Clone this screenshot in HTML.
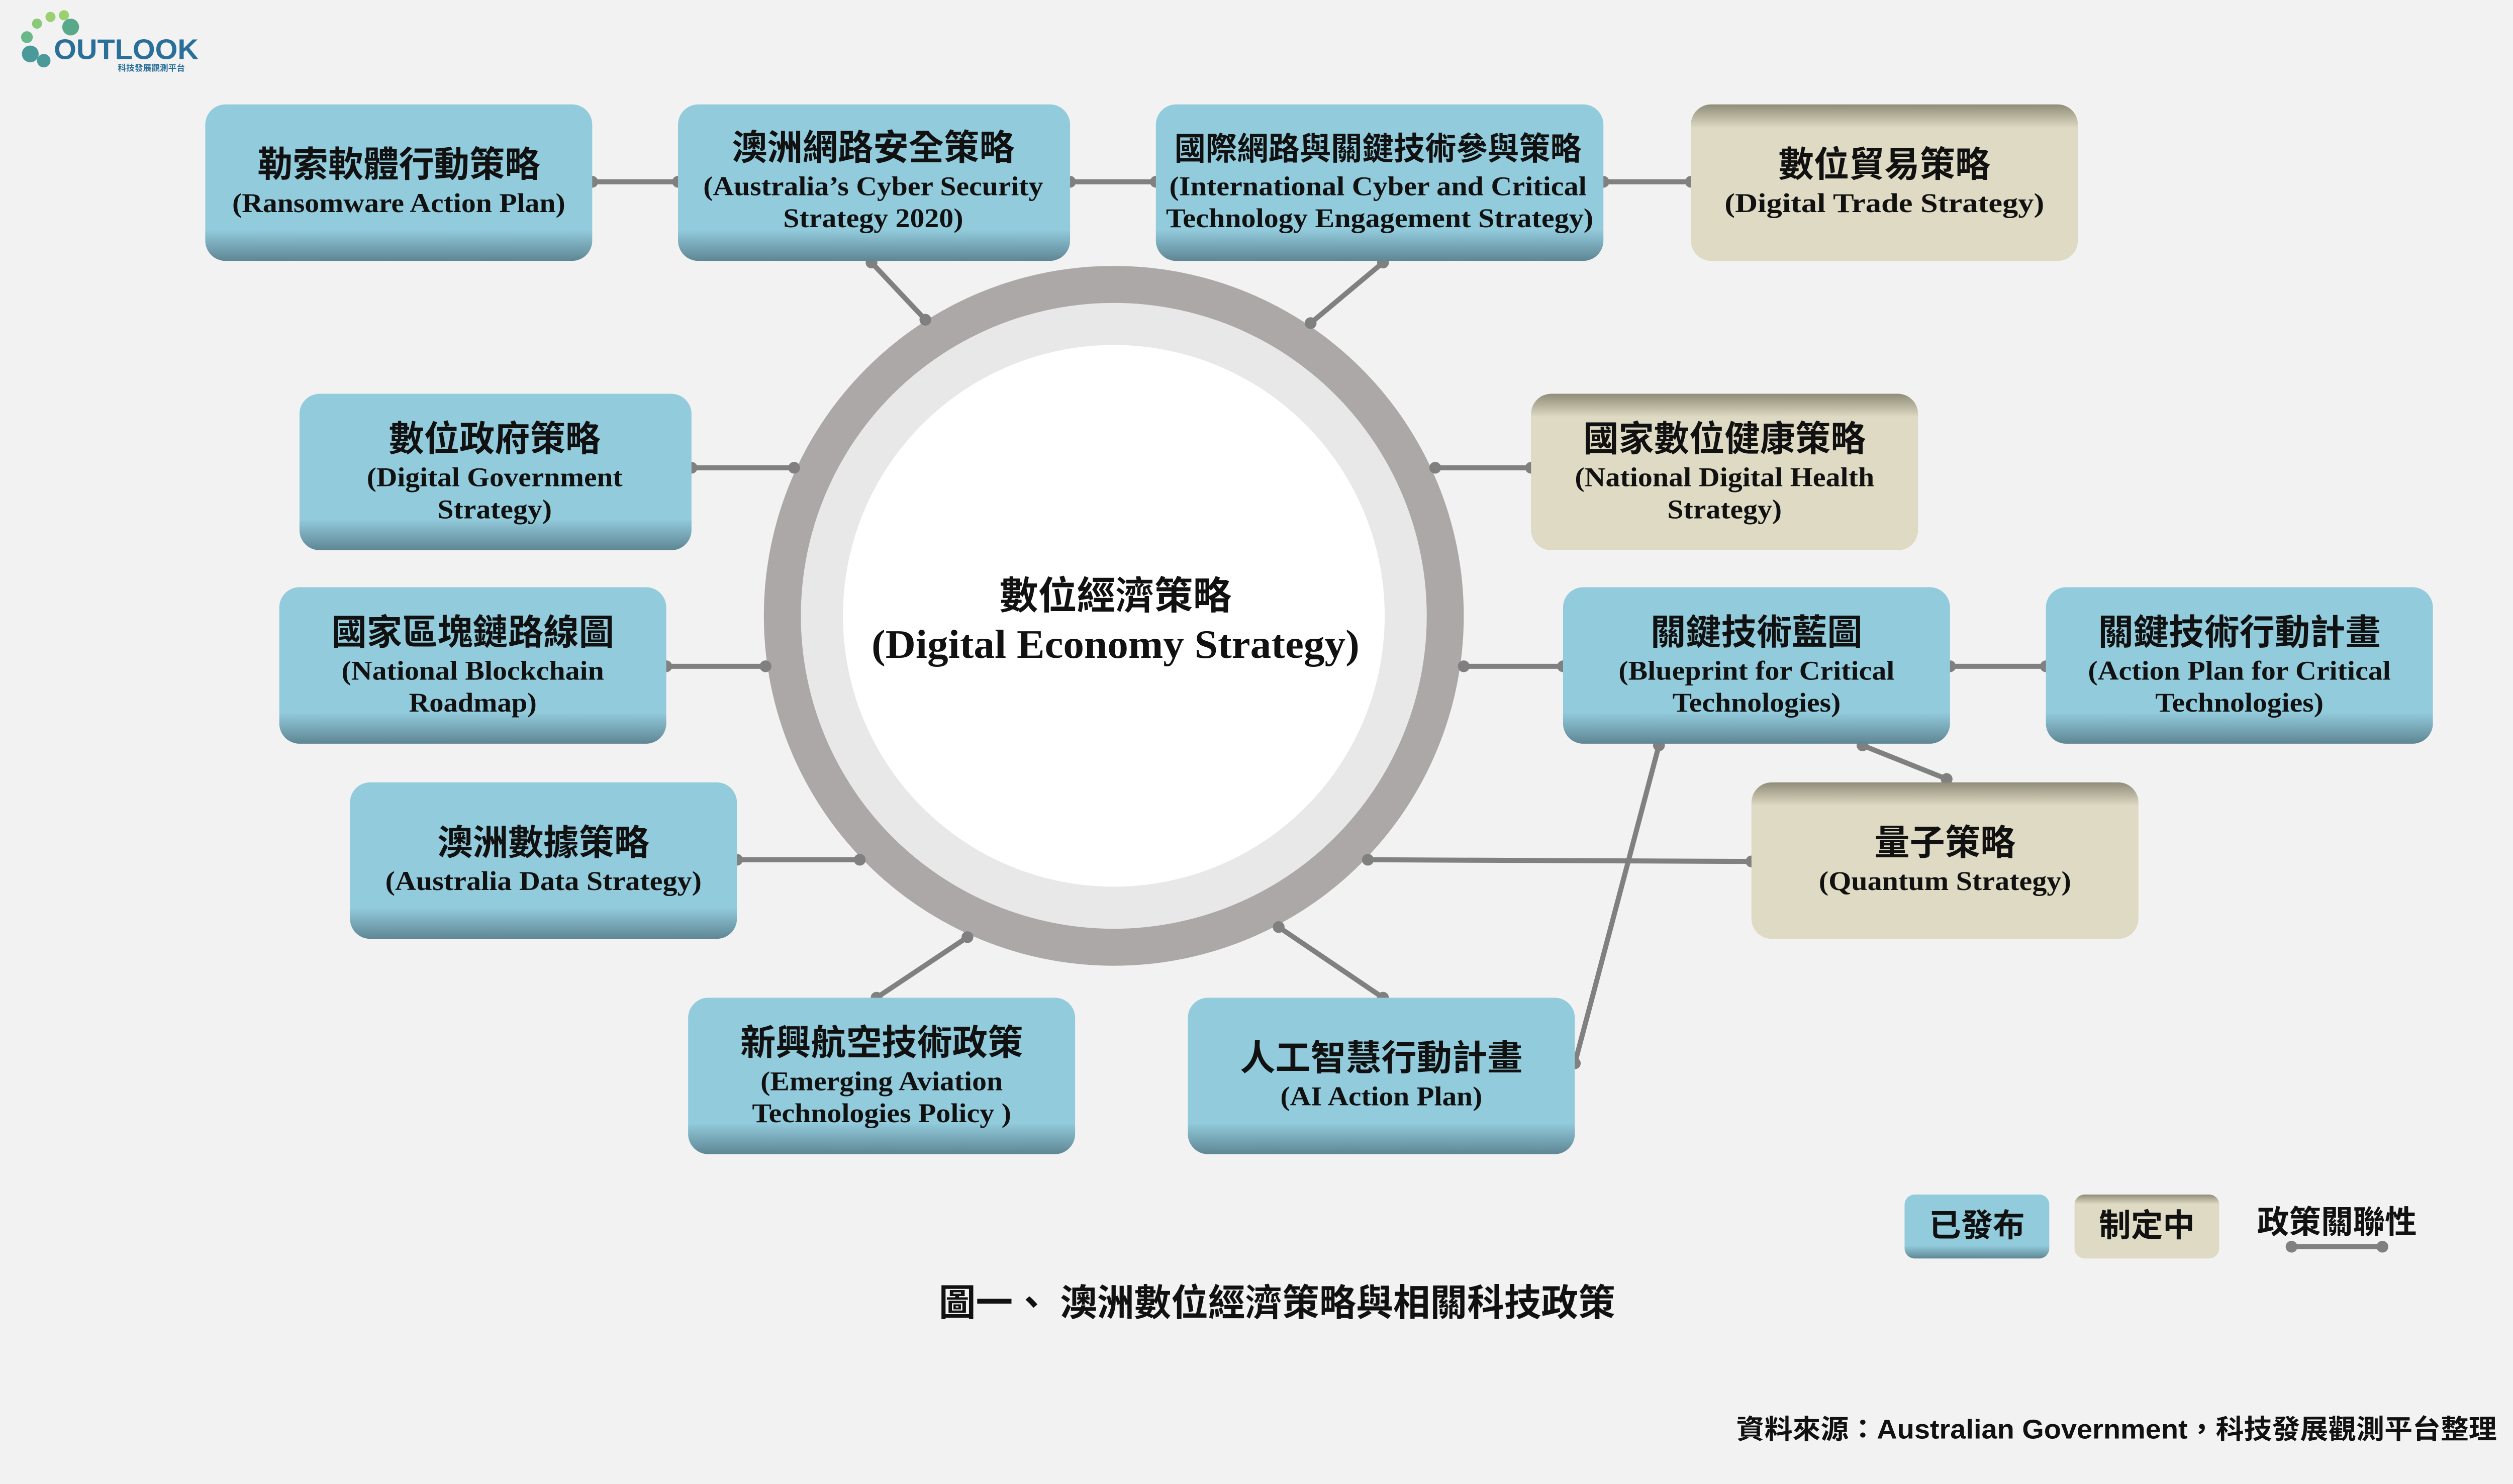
<!DOCTYPE html>
<html><head><meta charset="utf-8"><style>
html,body{margin:0;padding:0;background:#f2f2f2;}
svg{display:block;}
.zh{font-family:"Liberation Sans","Noto Sans CJK TC",sans-serif;font-weight:700;fill:#111;}
.en{font-family:"Liberation Serif",serif;font-weight:700;fill:#111;}
.ln{stroke:#808080;stroke-width:3;fill:none;}
.dt{fill:#808080;}
</style></head><body>
<svg width="5249" height="2953" viewBox="0 0 1568 882" xmlns="http://www.w3.org/2000/svg">
<defs>
<linearGradient id="bs" x1="0" y1="0" x2="0" y2="1"><stop offset="0.8" stop-color="#92cbdc"/><stop offset="1" stop-color="#5f8694"/></linearGradient>
<linearGradient id="gs" x1="0" y1="0" x2="0" y2="1"><stop offset="0" stop-color="#8f8c78"/><stop offset="0.15" stop-color="#dedac3"/><stop offset="1" stop-color="#dedac3"/></linearGradient>
</defs>
<rect width="1568" height="882" fill="#f2f2f2"/>
<!-- logo -->
<g>
<circle cx="18" cy="32" r="5" fill="#4a9a9a"/><circle cx="16" cy="22" r="3.5" fill="#6ab88a"/><circle cx="22" cy="14" r="3" fill="#8bc97a"/><circle cx="30" cy="10" r="3" fill="#9ccf70"/><circle cx="38" cy="9" r="3" fill="#9ccf70"/><circle cx="42" cy="16" r="5" fill="#5aa88a"/><circle cx="26" cy="36" r="4" fill="#4a9a9a"/>
<text x="32" y="35" style="font-family:'Liberation Sans',sans-serif;font-weight:900;font-size:17px;fill:#2a6f9a" textLength="86" lengthAdjust="spacingAndGlyphs">OUTLOOK</text>
<text x="70" y="42" class="zh" style="font-size:5px;fill:#2a6f9a">科技發展觀測平台</text>
</g>
<!-- ring -->
<circle cx="662" cy="366" r="208" fill="#aba8a7"/>
<circle cx="662" cy="366" r="186" fill="#e8e8e8"/>
<circle cx="662" cy="366" r="161" fill="#ffffff"/>
<text x="663" y="362" class="zh" text-anchor="middle" style="font-size:23px">數位經濟策略</text>
<text x="663" y="391" class="en" text-anchor="middle" style="font-size:24px" textLength="290" lengthAdjust="spacingAndGlyphs">(Digital Economy Strategy)</text>
<!-- connectors -->
<g class="ln">
<line x1="352" y1="108" x2="403" y2="108"/><line x1="636" y1="108" x2="687" y2="108"/><line x1="953" y1="108" x2="1005" y2="108"/>
<line x1="518" y1="156" x2="550" y2="190"/><line x1="822" y1="156" x2="779" y2="192"/>
<line x1="411" y1="278" x2="472" y2="278"/><line x1="853" y1="278" x2="910" y2="278"/>
<line x1="396" y1="396" x2="455" y2="396"/><line x1="870" y1="396" x2="929" y2="396"/><line x1="1159" y1="396" x2="1216" y2="396"/>
<line x1="438" y1="511" x2="511" y2="511"/><line x1="813" y1="511" x2="1041" y2="512"/>
<line x1="1107" y1="443" x2="1157" y2="463"/><line x1="986" y1="443" x2="936" y2="632"/>
<line x1="575" y1="557" x2="521" y2="593"/><line x1="760" y1="551" x2="822" y2="593"/>
<line x1="1362" y1="741" x2="1416" y2="741"/>
</g>
<g class="dt">
<circle cx="352" cy="108" r="3.5"/><circle cx="403" cy="108" r="3.5"/><circle cx="636" cy="108" r="3.5"/><circle cx="687" cy="108" r="3.5"/><circle cx="953" cy="108" r="3.5"/><circle cx="1005" cy="108" r="3.5"/>
<circle cx="518" cy="156" r="3.5"/><circle cx="550" cy="190" r="3.5"/><circle cx="822" cy="156" r="3.5"/><circle cx="779" cy="192" r="3.5"/>
<circle cx="411" cy="278" r="3.5"/><circle cx="472" cy="278" r="3.5"/><circle cx="853" cy="278" r="3.5"/><circle cx="910" cy="278" r="3.5"/>
<circle cx="396" cy="396" r="3.5"/><circle cx="455" cy="396" r="3.5"/><circle cx="870" cy="396" r="3.5"/><circle cx="929" cy="396" r="3.5"/><circle cx="1159" cy="396" r="3.5"/><circle cx="1216" cy="396" r="3.5"/>
<circle cx="438" cy="511" r="3.5"/><circle cx="511" cy="511" r="3.5"/><circle cx="813" cy="511" r="3.5"/><circle cx="1041" cy="512" r="3.5"/>
<circle cx="1107" cy="443" r="3.5"/><circle cx="1157" cy="463" r="3.5"/><circle cx="986" cy="443" r="3.5"/><circle cx="936" cy="632" r="3.5"/>
<circle cx="575" cy="557" r="3.5"/><circle cx="521" cy="593" r="3.5"/><circle cx="760" cy="551" r="3.5"/><circle cx="822" cy="593" r="3.5"/>
<circle cx="1362" cy="741" r="3.5"/><circle cx="1416" cy="741" r="3.5"/>
</g>
<!-- boxes -->
<g>
<rect x="122" y="62" width="230" height="93" rx="12" fill="url(#bs)"/>
<text x="237" y="105" class="zh" text-anchor="middle" style="font-size:21px">勒索軟體行動策略</text>
<text x="237" y="126" class="en" text-anchor="middle" style="font-size:16px" textLength="198" lengthAdjust="spacingAndGlyphs">(Ransomware Action Plan)</text>

<rect x="403" y="62" width="233" height="93" rx="12" fill="url(#bs)"/>
<text x="519" y="95" class="zh" text-anchor="middle" style="font-size:21px">澳洲網路安全策略</text>
<text x="519" y="116" class="en" text-anchor="middle" style="font-size:16px" textLength="202" lengthAdjust="spacingAndGlyphs">(Australia’s Cyber Security</text>
<text x="519" y="135" class="en" text-anchor="middle" style="font-size:16px" textLength="107" lengthAdjust="spacingAndGlyphs">Strategy 2020)</text>

<rect x="687" y="62" width="266" height="93" rx="12" fill="url(#bs)"/>
<text x="819" y="95" class="zh" text-anchor="middle" style="font-size:19px" textLength="242" lengthAdjust="spacingAndGlyphs">國際網路與關鍵技術參與策略</text>
<text x="819" y="116" class="en" text-anchor="middle" style="font-size:16px" textLength="248" lengthAdjust="spacingAndGlyphs">(International Cyber and Critical</text>
<text x="820" y="135" class="en" text-anchor="middle" style="font-size:16px" textLength="254" lengthAdjust="spacingAndGlyphs">Technology Engagement Strategy)</text>

<rect x="1005" y="62" width="230" height="93" rx="12" fill="url(#gs)"/>
<text x="1120" y="105" class="zh" text-anchor="middle" style="font-size:21px">數位貿易策略</text>
<text x="1120" y="126" class="en" text-anchor="middle" style="font-size:16px" textLength="190" lengthAdjust="spacingAndGlyphs">(Digital Trade Strategy)</text>

<rect x="178" y="234" width="233" height="93" rx="12" fill="url(#bs)"/>
<text x="294" y="268" class="zh" text-anchor="middle" style="font-size:21px">數位政府策略</text>
<text x="294" y="289" class="en" text-anchor="middle" style="font-size:16px" textLength="152" lengthAdjust="spacingAndGlyphs">(Digital Government</text>
<text x="294" y="308" class="en" text-anchor="middle" style="font-size:16px" textLength="68" lengthAdjust="spacingAndGlyphs">Strategy)</text>

<rect x="910" y="234" width="230" height="93" rx="12" fill="url(#gs)"/>
<text x="1025" y="268" class="zh" text-anchor="middle" style="font-size:21px">國家數位健康策略</text>
<text x="1025" y="289" class="en" text-anchor="middle" style="font-size:16px" textLength="178" lengthAdjust="spacingAndGlyphs">(National Digital Health</text>
<text x="1025" y="308" class="en" text-anchor="middle" style="font-size:16px" textLength="68" lengthAdjust="spacingAndGlyphs">Strategy)</text>

<rect x="166" y="349" width="230" height="93" rx="12" fill="url(#bs)"/>
<text x="281" y="383" class="zh" text-anchor="middle" style="font-size:21px">國家區塊鏈路線圖</text>
<text x="281" y="404" class="en" text-anchor="middle" style="font-size:16px" textLength="156" lengthAdjust="spacingAndGlyphs">(National Blockchain</text>
<text x="281" y="423" class="en" text-anchor="middle" style="font-size:16px" textLength="76" lengthAdjust="spacingAndGlyphs">Roadmap)</text>

<rect x="929" y="349" width="230" height="93" rx="12" fill="url(#bs)"/>
<text x="1044" y="383" class="zh" text-anchor="middle" style="font-size:21px">關鍵技術藍圖</text>
<text x="1044" y="404" class="en" text-anchor="middle" style="font-size:16px" textLength="164" lengthAdjust="spacingAndGlyphs">(Blueprint for Critical</text>
<text x="1044" y="423" class="en" text-anchor="middle" style="font-size:16px" textLength="100" lengthAdjust="spacingAndGlyphs">Technologies)</text>

<rect x="1216" y="349" width="230" height="93" rx="12" fill="url(#bs)"/>
<text x="1331" y="383" class="zh" text-anchor="middle" style="font-size:21px">關鍵技術行動計畫</text>
<text x="1331" y="404" class="en" text-anchor="middle" style="font-size:16px" textLength="180" lengthAdjust="spacingAndGlyphs">(Action Plan for Critical</text>
<text x="1331" y="423" class="en" text-anchor="middle" style="font-size:16px" textLength="100" lengthAdjust="spacingAndGlyphs">Technologies)</text>

<rect x="208" y="465" width="230" height="93" rx="12" fill="url(#bs)"/>
<text x="323" y="508" class="zh" text-anchor="middle" style="font-size:21px">澳洲數據策略</text>
<text x="323" y="529" class="en" text-anchor="middle" style="font-size:16px" textLength="188" lengthAdjust="spacingAndGlyphs">(Australia Data Strategy)</text>

<rect x="1041" y="465" width="230" height="93" rx="12" fill="url(#gs)"/>
<text x="1156" y="508" class="zh" text-anchor="middle" style="font-size:21px">量子策略</text>
<text x="1156" y="529" class="en" text-anchor="middle" style="font-size:16px" textLength="150" lengthAdjust="spacingAndGlyphs">(Quantum Strategy)</text>

<rect x="409" y="593" width="230" height="93" rx="12" fill="url(#bs)"/>
<text x="524" y="627" class="zh" text-anchor="middle" style="font-size:21px">新興航空技術政策</text>
<text x="524" y="648" class="en" text-anchor="middle" style="font-size:16px" textLength="144" lengthAdjust="spacingAndGlyphs">(Emerging Aviation</text>
<text x="524" y="667" class="en" text-anchor="middle" style="font-size:16px" textLength="154" lengthAdjust="spacingAndGlyphs">Technologies Policy )</text>

<rect x="706" y="593" width="230" height="93" rx="12" fill="url(#bs)"/>
<text x="821" y="636" class="zh" text-anchor="middle" style="font-size:21px">人工智慧行動計畫</text>
<text x="821" y="657" class="en" text-anchor="middle" style="font-size:16px" textLength="120" lengthAdjust="spacingAndGlyphs">(AI Action Plan)</text>
</g>
<!-- legend -->
<rect x="1132" y="710" width="86" height="38" rx="6" fill="url(#bs)"/>
<text x="1175" y="735" class="zh" text-anchor="middle" style="font-size:19px">已發布</text>
<rect x="1233" y="710" width="86" height="38" rx="6" fill="url(#gs)"/>
<text x="1276" y="735" class="zh" text-anchor="middle" style="font-size:19px">制定中</text>
<text x="1389" y="733" class="zh" text-anchor="middle" style="font-size:19px">政策關聯性</text>
<!-- caption -->
<text x="558" y="782" class="zh" style="font-size:22px">圖一、 澳洲數位經濟策略與相關科技政策</text>
<text x="1032" y="855" class="zh" style="font-size:16px" textLength="452" lengthAdjust="spacingAndGlyphs">資料來源：Australian Government，科技發展觀測平台整理</text>
</svg>
</body></html>
